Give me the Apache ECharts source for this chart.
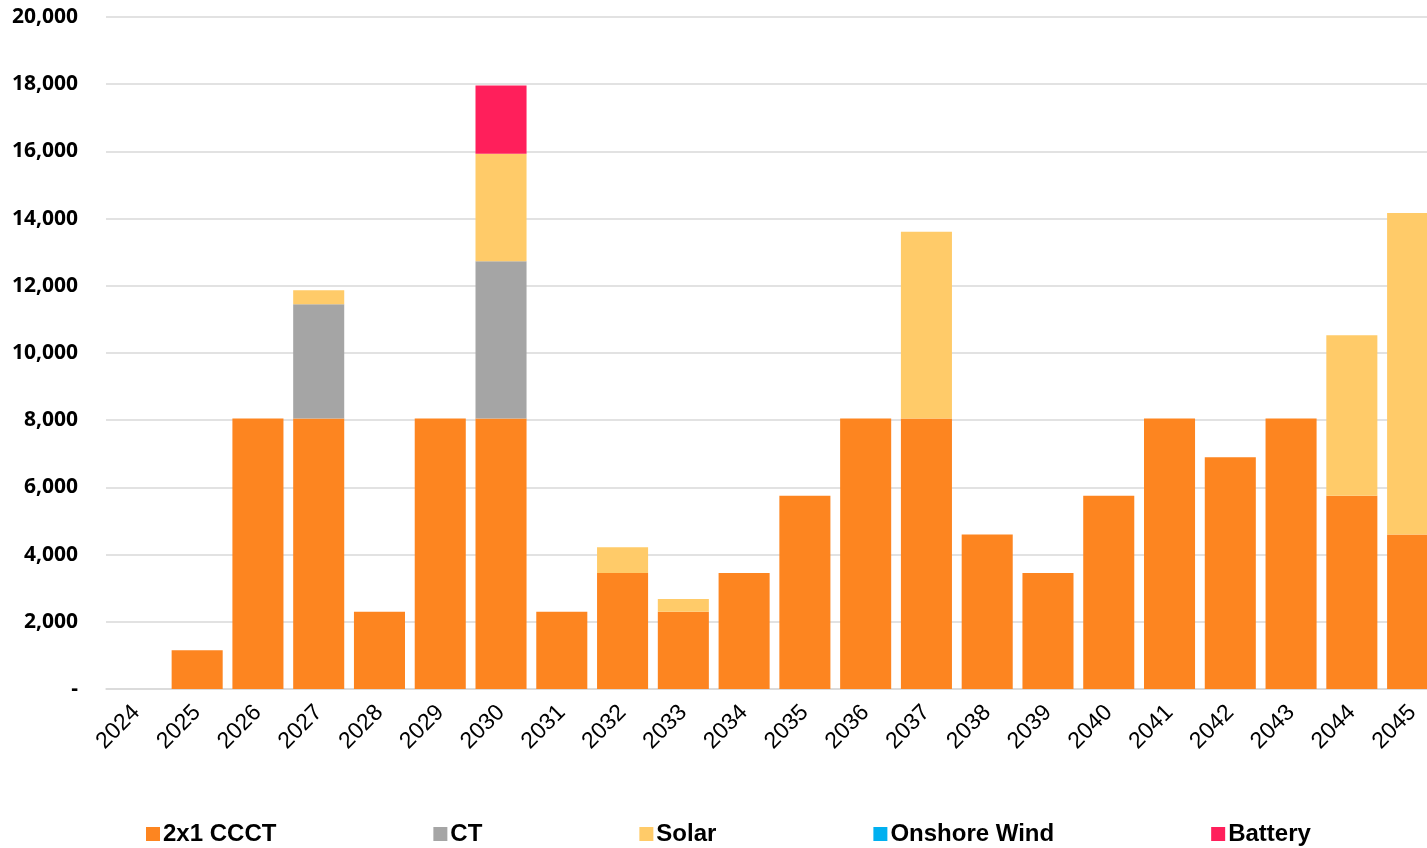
<!DOCTYPE html>
<html>
<head>
<meta charset="utf-8">
<script src="https://cdn.jsdelivr.net/npm/echarts@6/dist/echarts.min.js"></script>
<style>
html,body{margin:0;padding:0;background:#fff;overflow:hidden;}
#chart{width:1443px;height:848px;}
</style>
</head>
<body>
<div id="chart"></div>
<script>
const categories = ['2024','2025','2026','2027','2028','2029','2030','2031','2032','2033','2034','2035','2036','2037','2038','2039','2040','2041','2042','2043','2044','2045'];
const ccct    = [0,1150,8050,8050,2300,8050,8050,2300,3450,2300,3450,5750,8050,8050,4600,3450,5750,8050,6900,8050,5750,4600];
const ct      = [0,0,0,3400,0,0,4680,0,0,0,0,0,0,0,0,0,0,0,0,0,0,0];
const solar   = [0,0,0,420,0,0,3200,0,770,380,0,0,0,5560,0,0,0,0,0,0,4780,9570];
const wind    = [0,0,0,0,0,0,0,0,0,0,0,0,0,0,0,0,0,0,0,0,0,0];
const battery = [0,0,0,0,0,0,2030,0,0,0,0,0,0,0,0,0,0,0,0,0,0,0];
const seriesNames = ['2x1 CCCT','CT','Solar','Onshore Wind','Battery'];
const colors = ['#FD8520','#A5A5A5','#FFCB69','#00B0F0','#FF1F5B'];
const yTicks = [0,2000,4000,6000,8000,10000,12000,14000,16000,18000,20000];

const chart = echarts.init(document.getElementById('chart'), null, {renderer:'canvas'});
const dataSets = [ccct, ct, solar, wind, battery];
chart.setOption({
  animation:false,
  backgroundColor:'#ffffff',
  color: colors,
  grid:{left:106, right:0, top:17, height:672, containLabel:false},
  legend:{
    data: seriesNames,
    left:141, top:817,
    itemWidth:14, itemHeight:14, itemGap:157,
    icon:'rect',
    textStyle:{fontFamily:'Liberation Sans, Arial', fontWeight:'bold', fontSize:24, color:'#000', padding:[0,0,0,-2]}
  },
  xAxis:{
    type:'category', data:categories,
    axisLine:{show:true, lineStyle:{color:'#D9D9D9', width:1.5}},
    axisTick:{show:false},
    axisLabel:{rotate:45, interval:0, margin:20, fontFamily:'Liberation Sans, Arial', fontSize:23, color:'#000'}
  },
  yAxis:{
    type:'value', min:yTicks[0], max:yTicks[yTicks.length-1], interval:2000,
    axisLine:{show:false}, axisTick:{show:false},
    splitLine:{lineStyle:{color:'#D9D9D9', width:1.5}},
    axisLabel:{
      margin:28, fontFamily:'Open Sans', fontWeight:'bold', fontSize:21, color:'#000',
      formatter:function(v){ return v===0 ? '-' : v.toLocaleString('en-US'); }
    }
  },
  series: seriesNames.map(function(n,i){
    return {name:n, type:'bar', stack:'total', data:dataSets[i], barCategoryGap:'16%',
      itemStyle:{color:colors[i]}};
  })
});
</script>
</body>
</html>
